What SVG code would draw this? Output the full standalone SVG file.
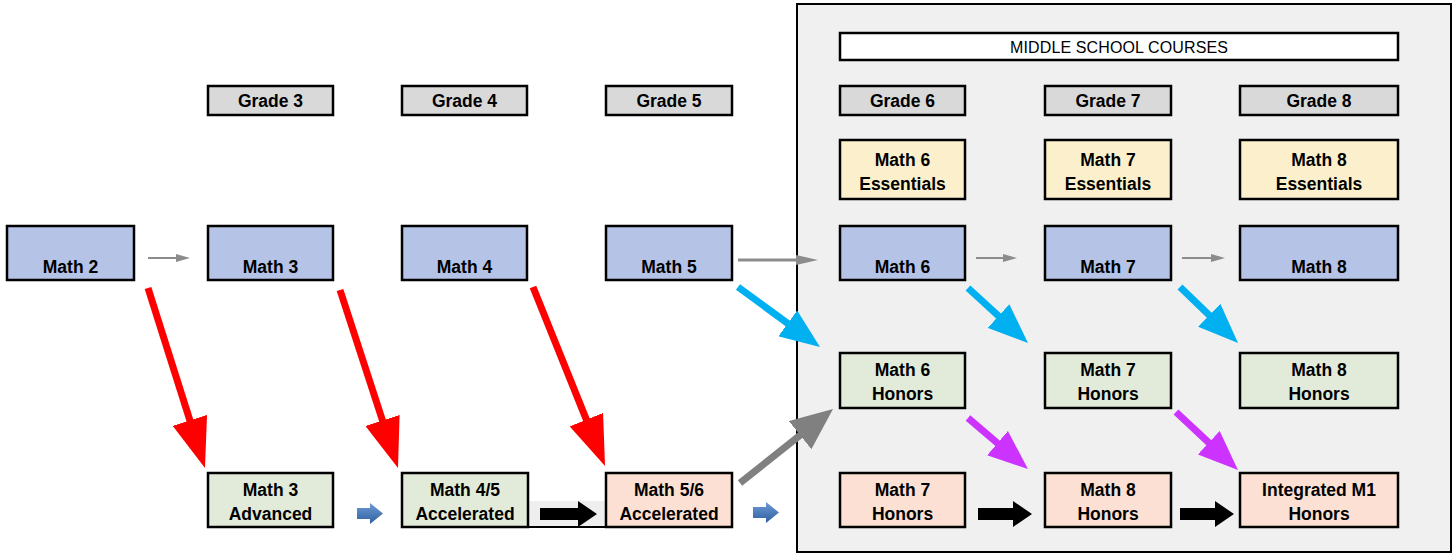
<svg xmlns="http://www.w3.org/2000/svg" width="1455" height="555" viewBox="0 0 1455 555">
<defs>
<style>
.b{stroke:#000;stroke-width:2.5}
.grade{fill:#d9d9d9}
.blue{fill:#b4c3e6}
.yel{fill:#fcf0cc}
.grn{fill:#e2ebd9}
.pch{fill:#fbe0d3}
text{font-family:"Liberation Sans",Arial,sans-serif;font-size:17.5px;font-weight:bold;text-anchor:middle;fill:#000}
.thin{font-weight:normal;font-size:16px}
</style>
<marker id="gs" viewBox="0 0 14 8" refX="2" refY="4" markerWidth="14" markerHeight="8" markerUnits="userSpaceOnUse" orient="auto"><path d="M0,0 L14,4 L0,8 Z" fill="#8c8c8c"/></marker>
<marker id="gm" viewBox="0 0 22 10" refX="2" refY="5" markerWidth="22" markerHeight="10" markerUnits="userSpaceOnUse" orient="auto"><path d="M0,0 L22,5 L0,10 Z" fill="#8c8c8c"/></marker>
<marker id="rh" viewBox="0 0 50 36" refX="10" refY="18" markerWidth="50" markerHeight="36" markerUnits="userSpaceOnUse" orient="auto"><path d="M0,0 L50,18 L0,36 Z" fill="#ff0000"/></marker>
<marker id="ch" viewBox="0 0 40 32" refX="8" refY="16" markerWidth="40" markerHeight="32" markerUnits="userSpaceOnUse" orient="auto"><path d="M0,0 L40,16 L0,32 Z" fill="#00b0f0"/></marker>
<marker id="mh" viewBox="0 0 40 32" refX="8" refY="16" markerWidth="40" markerHeight="32" markerUnits="userSpaceOnUse" orient="auto"><path d="M0,0 L40,16 L0,32 Z" fill="#cc33ff"/></marker>
<marker id="gh" viewBox="0 0 42 36" refX="8" refY="18" markerWidth="42" markerHeight="36" markerUnits="userSpaceOnUse" orient="auto"><path d="M0,0 L42,18 L0,36 Z" fill="#808080"/></marker>
<linearGradient id="bg" x1="0" y1="0" x2="0" y2="1"><stop offset="0" stop-color="#6d9bd6"/><stop offset="1" stop-color="#2f5f9e"/></linearGradient>
</defs>

<g id="panel">
<rect x="797" y="4" width="654" height="548" fill="#f0f0f0" stroke="#000" stroke-width="2"/>
</g>
<g id="gap45">
<rect x="528" y="501" width="78" height="26" fill="#eeeeee"/>
<line x1="528" y1="527" x2="606" y2="527" stroke="#000" stroke-width="2"/>
</g>

<g id="header"><rect x="840" y="33" width="558" height="27" fill="#fff" class="b"/><text x="1119" y="52.5" class="thin" textLength="218">MIDDLE SCHOOL COURSES</text></g>

<g id="grade3"><rect x="208" y="86" width="125" height="29" class="grade b"/><text x="270.5" y="106.5">Grade 3</text></g>
<g id="grade4"><rect x="402" y="86" width="125" height="29" class="grade b"/><text x="464.5" y="106.5">Grade 4</text></g>
<g id="grade5"><rect x="606" y="86" width="126" height="29" class="grade b"/><text x="669" y="106.5">Grade 5</text></g>
<g id="grade6"><rect x="840" y="86" width="125" height="29" class="grade b"/><text x="902.5" y="106.5">Grade 6</text></g>
<g id="grade7"><rect x="1045" y="86" width="126" height="29" class="grade b"/><text x="1108" y="106.5">Grade 7</text></g>
<g id="grade8"><rect x="1240" y="86" width="158" height="29" class="grade b"/><text x="1319" y="106.5">Grade 8</text></g>

<g id="m6e"><rect x="840" y="140" width="125" height="59" class="yel b"/><text x="902.5" y="165.5">Math 6</text><text x="902.5" y="189.5">Essentials</text></g>
<g id="m7e"><rect x="1045" y="140" width="126" height="59" class="yel b"/><text x="1108" y="165.5">Math 7</text><text x="1108" y="189.5">Essentials</text></g>
<g id="m8e"><rect x="1240" y="140" width="158" height="59" class="yel b"/><text x="1319" y="165.5">Math 8</text><text x="1319" y="189.5">Essentials</text></g>

<g id="m2"><rect x="7" y="226" width="127" height="54" class="blue b"/><text x="70.5" y="273">Math 2</text></g>
<g id="m3"><rect x="208" y="226" width="125" height="54" class="blue b"/><text x="270.5" y="273">Math 3</text></g>
<g id="m4"><rect x="402" y="226" width="125" height="54" class="blue b"/><text x="464.5" y="273">Math 4</text></g>
<g id="m5"><rect x="606" y="226" width="126" height="54" class="blue b"/><text x="669" y="273">Math 5</text></g>
<g id="m6"><rect x="840" y="226" width="125" height="54" class="blue b"/><text x="902.5" y="273">Math 6</text></g>
<g id="m7"><rect x="1045" y="226" width="126" height="54" class="blue b"/><text x="1108" y="273">Math 7</text></g>
<g id="m8"><rect x="1240" y="226" width="158" height="54" class="blue b"/><text x="1319" y="273">Math 8</text></g>

<g id="m6h"><rect x="840" y="353" width="125" height="55" class="grn b"/><text x="902.5" y="375.5">Math 6</text><text x="902.5" y="399.5">Honors</text></g>
<g id="m7h"><rect x="1045" y="353" width="126" height="55" class="grn b"/><text x="1108" y="375.5">Math 7</text><text x="1108" y="399.5">Honors</text></g>
<g id="m8h"><rect x="1240" y="353" width="158" height="55" class="grn b"/><text x="1319" y="375.5">Math 8</text><text x="1319" y="399.5">Honors</text></g>

<g id="m3a"><rect x="208" y="473" width="125" height="54" class="grn b"/><text x="270.5" y="495.5">Math 3</text><text x="270.5" y="519.5">Advanced</text></g>
<g id="m45"><rect x="402" y="473" width="126" height="54" class="grn b"/><text x="465" y="495.5">Math 4/5</text><text x="465" y="519.5">Accelerated</text></g>
<g id="m56"><rect x="606" y="473" width="126" height="54" class="pch b"/><text x="669" y="495.5">Math 5/6</text><text x="669" y="519.5">Accelerated</text></g>
<g id="m7hb"><rect x="840" y="473" width="125" height="54" class="pch b"/><text x="902.5" y="495.5">Math 7</text><text x="902.5" y="519.5">Honors</text></g>
<g id="m8hb"><rect x="1045" y="473" width="126" height="54" class="pch b"/><text x="1108" y="495.5">Math 8</text><text x="1108" y="519.5">Honors</text></g>
<g id="im1"><rect x="1240" y="473" width="158" height="54" class="pch b"/><text x="1319" y="495.5">Integrated M1</text><text x="1319" y="519.5">Honors</text></g>

<g id="connectors">
<line x1="148" y1="258" x2="178" y2="258" stroke="#8c8c8c" stroke-width="2" marker-end="url(#gs)"/>
<line x1="738" y1="260" x2="798" y2="260" stroke="#8c8c8c" stroke-width="3" marker-end="url(#gm)"/>
<line x1="976" y1="258" x2="1005" y2="258" stroke="#8c8c8c" stroke-width="2" marker-end="url(#gs)"/>
<line x1="1182" y1="258" x2="1213" y2="258" stroke="#8c8c8c" stroke-width="2" marker-end="url(#gs)"/>

<line x1="148" y1="288" x2="192.9" y2="429.9" stroke="#ff0000" stroke-width="7" marker-end="url(#rh)"/>
<line x1="340" y1="290" x2="385.6" y2="430" stroke="#ff0000" stroke-width="7" marker-end="url(#rh)"/>
<line x1="533" y1="287" x2="590.1" y2="428.9" stroke="#ff0000" stroke-width="7" marker-end="url(#rh)"/>

<line x1="738" y1="287" x2="794.2" y2="328.1" stroke="#00b0f0" stroke-width="7" marker-end="url(#ch)"/>
<line x1="968" y1="288" x2="1004.4" y2="321.4" stroke="#00b0f0" stroke-width="7" marker-end="url(#ch)"/>
<line x1="1180" y1="287" x2="1215" y2="320.8" stroke="#00b0f0" stroke-width="7" marker-end="url(#ch)"/>

<line x1="968" y1="418" x2="1003.6" y2="448.3" stroke="#cc33ff" stroke-width="7" marker-end="url(#mh)"/>
<line x1="1176" y1="412" x2="1214.6" y2="448.1" stroke="#cc33ff" stroke-width="7" marker-end="url(#mh)"/>

<line x1="740" y1="483" x2="806.4" y2="430.2" stroke="#808080" stroke-width="7" marker-end="url(#gh)"/>

<polygon points="540,508 578,508 578,501 597,514 578,527 578,520 540,520" fill="#000"/>
<polygon points="978,508 1013,508 1013,501 1032,514 1013,527 1013,520 978,520" fill="#000"/>
<polygon points="1180,508 1215,508 1215,501 1234,514 1215,527 1215,520 1180,520" fill="#000"/>

<polygon points="357,508 370,508 370,503 383,513.5 370,524 370,519 357,519" fill="url(#bg)"/>
<polygon points="753,507 766,507 766,502 779,512.5 766,523 766,518 753,518" fill="url(#bg)"/>
</g>
</svg>
